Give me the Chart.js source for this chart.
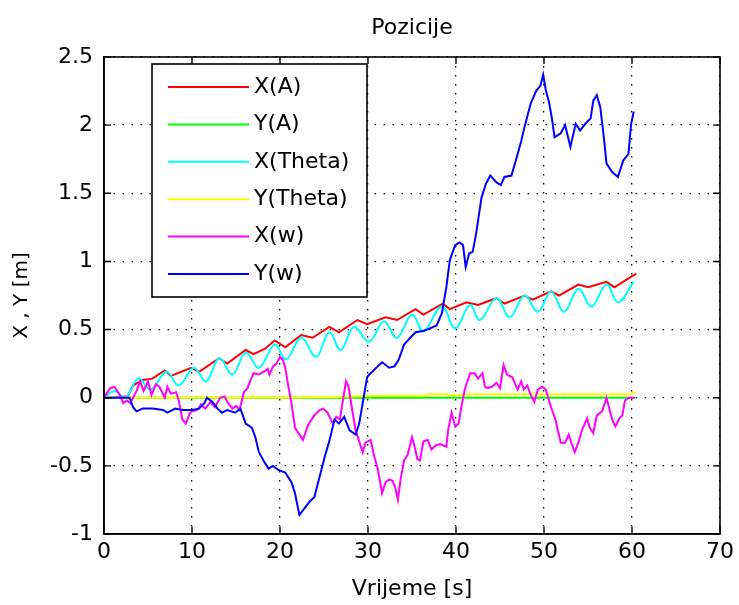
<!DOCTYPE html>
<html><head><meta charset="utf-8">
<script src="https://cdn.jsdelivr.net/npm/chart.js@4.4.1/dist/chart.umd.min.js"></script>
<style>html,body{margin:0;padding:0;background:#fff;}canvas{display:block;}</style>
</head><body>
<canvas id="c" width="739" height="605"></canvas>
<script>
const chartTitle = 'Pozicije';
const xAxisTitle = 'Vrijeme [s]';
const yAxisTitle = 'X , Y [m]';
const seriesNames = ['X(A)', 'Y(A)', 'X(Theta)', 'Y(Theta)', 'X(w)', 'Y(w)'];
const seriesColors = ['#ff0000', '#00ff00', '#00ffff', '#ffff00', '#ff00ff', '#0000ff'];
const xTickValues = [0, 10, 20, 30, 40, 50, 60, 70];
const xTickLabels = ['0', '10', '20', '30', '40', '50', '60', '70'];
const yTickValues = [-1, -0.5, 0, 0.5, 1, 1.5, 2, 2.5];
const yTickLabels = ['-1', '-0.5', '0', '0.5', '1', '1.5', '2', '2.5'];

// X(A)
const xA_t = [0, 1, 2.7, 3.3, 4.4, 5.5, 6.9, 7.6, 9.9, 10.8, 13.1, 14.0, 16.1, 17.0, 18.3, 19.4, 20.6, 22.4, 23.7, 25.6, 26.7, 28.8, 29.9, 32.0, 33.3, 35.4, 36.3, 38.5, 39.3, 41.2, 42.5, 44.6, 45.5, 47.8, 48.7, 50.8, 51.7, 53.9, 55.0, 57.1, 58.0, 60.2, 60.5];
const xA_v = [0, 0, 0.01, 0.09, 0.13, 0.14, 0.20, 0.16, 0.22, 0.19, 0.29, 0.25, 0.35, 0.32, 0.36, 0.42, 0.37, 0.46, 0.44, 0.52, 0.48, 0.57, 0.54, 0.59, 0.57, 0.65, 0.61, 0.69, 0.65, 0.70, 0.68, 0.73, 0.69, 0.75, 0.72, 0.78, 0.75, 0.83, 0.81, 0.85, 0.81, 0.90, 0.91];
// Y(A)
const yA_t = [0, 60.3];
const yA_v = [0, 0];
// X(Theta)
const xT_t = [0, 1.2, 2.4, 3.9, 5.3, 7.1, 8.5, 10.2, 11.6, 13.1, 14.6, 16.1, 17.6, 19.4, 20.7, 22.4, 24.1, 25.6, 26.9, 28.4, 30.1, 31.8, 33.3, 35.0, 36.3, 38.4, 39.9, 41.6, 42.7, 44.6, 46.1, 47.8, 49.3, 50.8, 52.3, 53.9, 55.4, 57.1, 58.4, 60.2];
const xT_v = [0, 0.05, 0.0, 0.14, 0.06, 0.19, 0.09, 0.22, 0.12, 0.29, 0.17, 0.33, 0.22, 0.39, 0.28, 0.44, 0.30, 0.48, 0.35, 0.52, 0.41, 0.56, 0.44, 0.61, 0.49, 0.67, 0.51, 0.68, 0.57, 0.73, 0.59, 0.75, 0.63, 0.78, 0.63, 0.80, 0.67, 0.83, 0.70, 0.85];
// Y(Theta)
const yT_t = [0, 9, 12, 14, 17, 20, 23, 26, 30, 33, 36.5, 36.8, 39, 39.3, 40.5, 41, 60, 60.4];
const yT_v = [0, 0, 0.004, -0.002, 0.004, 0, 0.004, 0.006, 0.012, 0.015, 0.015, 0.025, 0.025, 0.018, 0.018, 0.025, 0.025, 0.045];
// X(w)
const xW_t = [0, 0.7, 1.2, 1.8, 2.2, 2.6, 3.0, 3.3, 3.7, 4.1, 4.5, 5.0, 5.4, 5.9, 6.3, 6.9, 7.2, 7.6, 8.2, 8.5, 8.9, 9.3, 9.7, 10.0, 10.6, 11.0, 11.5, 12.1, 12.6, 13.2, 13.7, 14.1, 14.6, 15.0, 15.4, 15.9, 16.3, 16.6, 17.0, 17.6, 18.1, 18.6, 18.8, 19.2, 19.6, 20.0, 20.3, 20.6, 20.9, 21.3, 21.7, 22.1, 22.6, 23.2, 23.6, 23.9, 24.5, 24.9, 25.4, 26.0, 26.4, 26.8, 27.1, 27.5, 27.8, 28.2, 28.6, 29.0, 29.4, 29.7, 30.3, 30.7, 31.1, 31.6, 32.0, 32.4, 32.8, 33.1, 33.4, 33.7, 34.1, 34.5, 35.0, 35.3, 35.6, 35.9, 36.3, 36.8, 37.2, 37.7, 38.2, 38.9, 39.1, 39.5, 39.9, 40.3, 40.6, 41.0, 41.6, 42.1, 42.5, 43.0, 43.3, 43.6, 44.1, 44.6, 45.0, 45.4, 45.8, 46.4, 47.0, 47.4, 47.7, 48.1, 48.5, 48.9, 49.3, 49.8, 50.2, 50.8, 51.3, 51.9, 52.4, 52.8, 53.1, 53.5, 53.9, 54.3, 54.9, 55.2, 55.6, 56.0, 56.6, 57.1, 57.5, 57.8, 58.1, 58.6, 58.9, 59.2, 59.6, 60.3];
const xW_v = [0, 0.07, 0.08, 0.02, -0.04, -0.02, -0.04, 0.0, 0.05, 0.12, 0.05, 0.12, 0.02, 0.10, 0.08, 0.0, 0.08, 0.03, 0.04, -0.02, -0.16, -0.19, -0.12, -0.10, -0.09, -0.05, -0.08, -0.03, -0.07, 0.0, 0.01, -0.04, -0.08, -0.06, -0.09, 0.04, 0.07, 0.12, 0.18, 0.17, 0.19, 0.21, 0.17, 0.23, 0.25, 0.30, 0.28, 0.22, 0.10, -0.04, -0.22, -0.26, -0.31, -0.20, -0.16, -0.13, -0.09, -0.08, -0.11, -0.19, -0.14, -0.16, -0.04, 0.12, 0.08, -0.09, -0.24, -0.32, -0.40, -0.33, -0.31, -0.43, -0.52, -0.70, -0.62, -0.60, -0.61, -0.66, -0.75, -0.60, -0.46, -0.42, -0.29, -0.36, -0.45, -0.46, -0.32, -0.31, -0.38, -0.35, -0.34, -0.36, -0.24, -0.11, -0.21, -0.19, -0.07, 0.06, 0.18, 0.18, 0.14, 0.18, 0.08, 0.07, 0.08, 0.11, 0.07, 0.24, 0.17, 0.15, 0.06, 0.12, 0.06, 0.09, 0.02, -0.03, 0.06, 0.08, 0.06, -0.07, -0.16, -0.33, -0.33, -0.27, -0.33, -0.40, -0.33, -0.24, -0.15, -0.22, -0.26, -0.13, -0.10, 0.0, -0.10, -0.17, -0.21, -0.15, -0.13, -0.02, 0.0, 0.0];
// Y(w)
const yW_t = [0, 2.9, 3.3, 3.7, 4.4, 5.5, 6.7, 7.2, 8.1, 8.9, 10.0, 10.8, 11.4, 11.7, 12.3, 12.9, 13.4, 14.0, 14.9, 15.5, 16.1, 16.8, 17.2, 17.6, 18.2, 18.7, 19.2, 19.8, 20.6, 21.3, 21.7, 22.2, 22.8, 23.4, 23.9, 24.5, 25.1, 25.6, 26.2, 26.7, 27.3, 27.9, 28.6, 29.0, 29.5, 29.9, 30.3, 31.1, 31.6, 32.4, 33.0, 33.5, 34.1, 34.8, 35.4, 36.3, 36.7, 37.8, 38.4, 38.9, 39.3, 39.9, 40.4, 40.8, 41.1, 41.5, 41.9, 42.3, 42.9, 43.4, 43.9, 44.6, 45.1, 45.5, 46.3, 46.8, 47.4, 47.8, 48.5, 49.1, 49.6, 49.9, 50.2, 50.6, 50.9, 51.2, 51.9, 52.4, 53.0, 53.6, 54.1, 54.7, 55.3, 55.6, 56.0, 56.4, 56.8, 57.1, 57.7, 58.4, 59.0, 59.6, 59.9, 60.2];
const yW_v = [0, 0, -0.07, -0.10, -0.08, -0.08, -0.09, -0.11, -0.08, -0.09, -0.09, -0.08, -0.04, 0.0, -0.03, -0.08, -0.11, -0.09, -0.11, -0.08, -0.19, -0.22, -0.29, -0.40, -0.47, -0.52, -0.50, -0.53, -0.55, -0.62, -0.70, -0.86, -0.81, -0.76, -0.73, -0.58, -0.43, -0.32, -0.16, -0.19, -0.14, -0.24, -0.27, -0.19, 0.0, 0.15, 0.18, 0.23, 0.26, 0.22, 0.23, 0.28, 0.39, 0.44, 0.48, 0.49, 0.50, 0.53, 0.62, 0.81, 1.01, 1.12, 1.14, 1.12, 0.96, 1.06, 1.07, 1.21, 1.47, 1.57, 1.63, 1.58, 1.56, 1.62, 1.63, 1.74, 1.88, 1.99, 2.16, 2.25, 2.29, 2.37, 2.26, 2.16, 2.05, 1.91, 1.94, 2.00, 1.84, 2.01, 1.96, 2.01, 2.05, 2.18, 2.22, 2.13, 1.91, 1.72, 1.66, 1.62, 1.74, 1.79, 2.01, 2.10];

const seriesT = [xA_t, yA_t, xT_t, yT_t, xW_t, yW_t];
const seriesV = [xA_v, yA_v, xT_v, yT_v, xW_v, yW_v];
const seriesTension = [0, 0, 0.4, 0, 0, 0];

const FONT = "'DejaVu Sans', 'Liberation Sans', Arial, sans-serif";
const FS = 22;

const datasets = seriesNames.map((name, i) => ({
  label: name,
  data: seriesT[i].map((t, k) => ({x: t, y: seriesV[i][k]})),
  borderColor: seriesColors[i],
  backgroundColor: seriesColors[i],
  borderWidth: 2,
  pointRadius: 0,
  fill: false,
  tension: seriesTension[i],
  order: seriesNames.length - 1 - i
}));

const framePlugin = {
  id: 'frame',
  afterDatasetsDraw(chart) {
    const {ctx, chartArea: a, scales: {x, y}} = chart;
    ctx.save();
    ctx.setLineDash([]);
    ctx.strokeStyle = '#000';
    ctx.lineWidth = 1.6;
    ctx.strokeRect(a.left, a.top, a.right - a.left, a.bottom - a.top);
    const L = 7;
    ctx.lineWidth = 1.4;
    ctx.beginPath();
    x.ticks.forEach(t => {
      const p = x.getPixelForValue(t.value);
      ctx.moveTo(p, a.bottom); ctx.lineTo(p, a.bottom - L);
      ctx.moveTo(p, a.top); ctx.lineTo(p, a.top + L);
    });
    y.ticks.forEach(t => {
      const p = y.getPixelForValue(t.value);
      ctx.moveTo(a.left, p); ctx.lineTo(a.left + L, p);
      ctx.moveTo(a.right, p); ctx.lineTo(a.right - L, p);
    });
    ctx.stroke();
    ctx.restore();
  },
  afterDraw(chart) {
    const {ctx, chartArea: a} = chart;
    ctx.save();
    ctx.fillStyle = '#000';
    ctx.font = FS + 'px ' + FONT;
    ctx.textAlign = 'center';
    ctx.textBaseline = 'middle';
    ctx.fillText(chartTitle, (a.left + a.right) / 2, 28);
    const bx = a.left + 48, by = a.top + 7, bw = 215, bh = 233;
    ctx.fillStyle = '#fff';
    ctx.fillRect(bx, by, bw, bh);
    ctx.strokeStyle = '#000';
    ctx.lineWidth = 1.6;
    ctx.strokeRect(bx, by, bw, bh);
    ctx.textAlign = 'left';
    chart.data.datasets.forEach((ds, i) => {
      const cy = by + 23 + i * 37.4;
      ctx.strokeStyle = ds.borderColor;
      ctx.lineWidth = 2;
      ctx.beginPath();
      ctx.moveTo(bx + 16, cy); ctx.lineTo(bx + 97, cy);
      ctx.stroke();
      ctx.fillStyle = '#000';
      ctx.fillText(ds.label, bx + 102, cy);
    });
    ctx.restore();
  }
};

new Chart(document.getElementById('c'), {
  type: 'line',
  data: {datasets},
  options: {
    responsive: false,
    animation: false,
    events: [],
    layout: {padding: {top: 57, right: 13, left: 0, bottom: 0}},
    plugins: {legend: {display: false}, tooltip: {enabled: false}, title: {display: false}},
    scales: {
      x: {
        type: 'linear', min: 0, max: 70,
        afterBuildTicks: s => { s.ticks = xTickValues.map(v => ({value: v})); },
        afterFit: s => { s.height = 71; },
        ticks: {
          callback: v => xTickLabels[xTickValues.indexOf(v)],
          color: '#000', font: {family: FONT, size: FS}, padding: 5,
          maxRotation: 0, autoSkip: false
        },
        grid: {color: '#000', lineWidth: 1.3, drawTicks: false},
        border: {display: true, color: '#000', width: 1.6, dash: [1.5, 7.5]},
        title: {display: true, text: xAxisTitle, color: '#000', font: {family: FONT, size: FS}, padding: {top: 0, bottom: 3}}
      },
      y: {
        type: 'linear', min: -1, max: 2.5,
        afterBuildTicks: s => { s.ticks = yTickValues.map(v => ({value: v})); },
        afterFit: s => { s.width = 104; },
        ticks: {
          callback: v => yTickLabels[yTickValues.indexOf(v)],
          color: '#000', font: {family: FONT, size: FS}, padding: 11, autoSkip: false
        },
        grid: {color: '#000', lineWidth: 1.3, drawTicks: false},
        border: {display: true, color: '#000', width: 1.6, dash: [1.5, 7.5]},
        title: {display: true, text: yAxisTitle, color: '#000', font: {family: FONT, size: 20}, padding: {top: 10, bottom: 0}}
      }
    }
  },
  plugins: [framePlugin]
});
</script>
</body></html>
